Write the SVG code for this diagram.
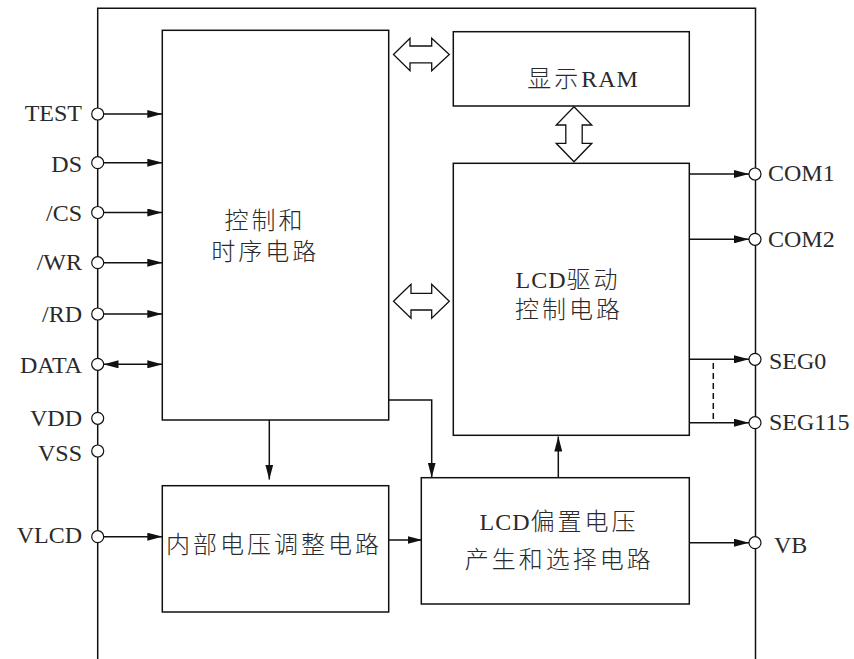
<svg xmlns="http://www.w3.org/2000/svg" width="854" height="659" viewBox="0 0 854 659">
<style>
.frame{fill:none;stroke:#111;stroke-width:1.5}
.box{fill:#fff;stroke:#111;stroke-width:1.5}
.ln{fill:none;stroke:#111;stroke-width:1.5}
.pin{fill:#fff;stroke:#111;stroke-width:1.2}
.hollow{fill:#fff;stroke:#111;stroke-width:1.3;stroke-linejoin:miter}
.lbl{font-family:"Liberation Serif","Noto Sans CJK SC",serif;font-size:24px;fill:#2a2a2a}
.t{font-family:"Liberation Serif","Noto Sans CJK SC",serif;font-size:24px;fill:#2a2a2a;text-anchor:middle;font-weight:300}
.cj{letter-spacing:3px}
.la{letter-spacing:1px}
</style>
<defs>
<marker id="ah" viewBox="0 0 15 8" refX="15" refY="4" markerWidth="15" markerHeight="8" markerUnits="userSpaceOnUse" orient="auto-start-reverse">
<path d="M0,0 L15,4 L0,8 z" fill="#111"/>
</marker>
</defs>
<rect width="854" height="659" fill="#fff"/>
<g id="frame">
<path class="frame" d="M97.7,659 V8.3 H755.5 V659"/>
</g>
<g id="connectors">
<line class="ln" x1="103.5" y1="114" x2="162.3" y2="114" marker-end="url(#ah)"/>
<line class="ln" x1="103.5" y1="162.7" x2="162.3" y2="162.7" marker-end="url(#ah)"/>
<line class="ln" x1="103.5" y1="212.5" x2="162.3" y2="212.5" marker-end="url(#ah)"/>
<line class="ln" x1="103.5" y1="262.7" x2="162.3" y2="262.7" marker-end="url(#ah)"/>
<line class="ln" x1="103.5" y1="314" x2="162.3" y2="314" marker-end="url(#ah)"/>
<line class="ln" x1="103.5" y1="364.3" x2="162.3" y2="364.3" marker-start="url(#ah)" marker-end="url(#ah)"/>
<line class="ln" x1="103.5" y1="536.7" x2="162.3" y2="536.7" marker-end="url(#ah)"/>
<line class="ln" x1="269.3" y1="420" x2="269.3" y2="479.5" marker-end="url(#ah)"/>
<path class="ln" d="M388.7,400 H431.7 V477.5" marker-end="url(#ah)"/>
<line class="ln" x1="388.7" y1="540" x2="422.5" y2="540" marker-end="url(#ah)"/>
<line class="ln" x1="558.3" y1="477.7" x2="558.3" y2="436.5" marker-end="url(#ah)"/>
<line class="ln" x1="689.3" y1="174" x2="749" y2="174" marker-end="url(#ah)"/>
<line class="ln" x1="689.3" y1="239.3" x2="749" y2="239.3" marker-end="url(#ah)"/>
<line class="ln" x1="689.3" y1="359.3" x2="749" y2="359.3" marker-end="url(#ah)"/>
<line class="ln" x1="689.3" y1="422.7" x2="749" y2="422.7" marker-end="url(#ah)"/>
<line class="ln" x1="689.3" y1="542.7" x2="749" y2="542.7" marker-end="url(#ah)"/>
<line class="ln" x1="713.3" y1="363" x2="713.3" y2="420" stroke-dasharray="6,4" stroke-width="1.3"/>
<polygon class="hollow" points="393.5,54.5 410,38.3 410,46 431.7,46 431.7,38.3 449.3,54.5 431.7,70.7 431.7,62.8 410,62.8 410,70.7"/>
<polygon class="hollow" points="393.5,301.3 411,284.3 411,293.3 431.7,293.3 431.7,284.3 449.3,301.3 431.7,318.3 431.7,310 411,310 411,318.3"/>
<polygon class="hollow" points="574,106.7 591.8,125 582.2,125 582.2,143.3 591.8,143.3 574,161.7 556.2,143.3 565.8,143.3 565.8,125 556.2,125"/>
</g>
<g id="ctrl">
<rect class="box" x="162.3" y="30.3" width="226.4" height="389.7"/>
<text class="t cj" x="265" y="228.5">控制和</text>
<text class="t cj" x="265.2" y="260">时序电路</text>
</g>
<g id="ram">
<rect class="box" x="453.3" y="31.7" width="236" height="74.3"/>
<text class="t" x="583" y="86.5"><tspan class="cj">显示</tspan><tspan class="la">RAM</tspan></text>
</g>
<g id="lcddrv">
<rect class="box" x="453.3" y="163.3" width="236" height="272"/>
<text class="t" x="568" y="288"><tspan class="la">LCD</tspan><tspan class="cj">驱动</tspan></text>
<text class="t cj" x="569" y="318">控制电路</text>
</g>
<g id="vreg">
<rect class="box" x="162.3" y="485.7" width="226.4" height="126.3"/>
<text class="t cj" x="274" y="553">内部电压调整电路</text>
</g>
<g id="bias">
<rect class="box" x="421.3" y="477.7" width="268" height="126.3"/>
<text class="t" x="559" y="530"><tspan class="la">LCD</tspan><tspan class="cj">偏置电压</tspan></text>
<text class="t cj" x="559.3" y="567.5">产生和选择电路</text>
</g>
<g id="pins">
<circle class="pin" cx="97.7" cy="114" r="6"/>
<circle class="pin" cx="97.7" cy="162.7" r="6"/>
<circle class="pin" cx="97.7" cy="212.5" r="6"/>
<circle class="pin" cx="97.7" cy="262.7" r="6"/>
<circle class="pin" cx="97.7" cy="314" r="6"/>
<circle class="pin" cx="97.7" cy="364.3" r="6"/>
<circle class="pin" cx="97.7" cy="418.3" r="6"/>
<circle class="pin" cx="97.7" cy="451" r="6"/>
<circle class="pin" cx="97.7" cy="536.7" r="6"/>
<circle class="pin" cx="755" cy="174" r="6"/>
<circle class="pin" cx="755" cy="239.3" r="6"/>
<circle class="pin" cx="755" cy="359.3" r="6"/>
<circle class="pin" cx="755" cy="422.7" r="6"/>
<circle class="pin" cx="755" cy="542.7" r="6"/>
<g class="lbl" text-anchor="end">
<text x="82" y="121">TEST</text>
<text x="82" y="172">DS</text>
<text x="82" y="221">/CS</text>
<text x="82" y="270">/WR</text>
<text x="82" y="322">/RD</text>
<text x="82" y="373">DATA</text>
<text x="82" y="426">VDD</text>
<text x="82" y="461">VSS</text>
<text x="82" y="543">VLCD</text>
</g>
<g class="lbl">
<text x="768" y="181">COM1</text>
<text x="768" y="246.5">COM2</text>
<text x="769" y="369">SEG0</text>
<text x="769" y="430">SEG115</text>
<text x="774" y="552.5">VB</text>
</g>
</g>
</svg>
